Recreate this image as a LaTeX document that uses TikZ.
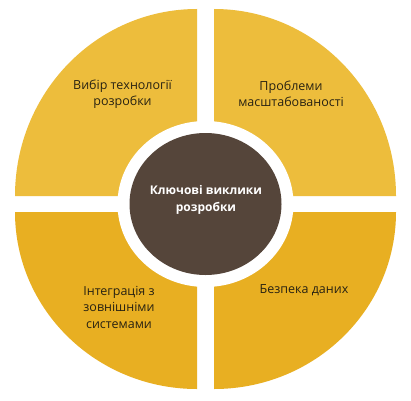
\documentclass[tikz,border=0pt]{standalone}
\usepackage{fontspec}
\setmainfont{Open Sans}
\definecolor{topq}{RGB}{237,189,60}
\definecolor{botq}{RGB}{232,175,34}
\definecolor{hub}{RGB}{85,69,58}
\definecolor{txt}{RGB}{40,34,18}
\begin{document}
\begin{tikzpicture}[x=1pt,y=1pt,
  lbl/.style={align=center,text=txt,font=\fontsize{12.5}{16.5}\selectfont,inner sep=0pt},
  hublbl/.style={align=center,text=white,font=\bfseries\fontsize{12}{16.5}\selectfont,inner sep=0pt}]
\useasboundingbox (0,0) rectangle (411,400);
\fill[white] (0,0) rectangle (411,400);
% quadrants
\fill[topq] (197,204) -- (15,204) arc[start angle=180,end angle=90,x radius=182,y radius=187] -- cycle;
\fill[topq] (214,204) -- (214,391) arc[start angle=90,end angle=0,x radius=182,y radius=187] -- cycle;
\fill[botq] (197,188) -- (15,188) arc[start angle=180,end angle=270,x radius=182,y radius=177] -- cycle;
\fill[botq] (214,188) -- (396,188) arc[start angle=0,end angle=-90,x radius=182,y radius=177] -- cycle;
% hub
\fill[white] (205.5,196) ellipse[x radius=88,y radius=83];
\fill[hub] (205.5,196) ellipse[x radius=76,y radius=71];
% labels
\node[lbl] (q1) at (122.5,306) {Вибір технології\\розробки};
\node[lbl] (q2) at (291,306) {Проблеми\\масштабованості};
\node[lbl] (q3) at (119,93) {Інтеграція з\\зовнішніми\\системами};
\node[lbl] (q4) at (304,110) {Безпека даних};
\node[hublbl] (c) at (206,200) {Ключові виклики\\розробки};
\end{tikzpicture}
\end{document}
